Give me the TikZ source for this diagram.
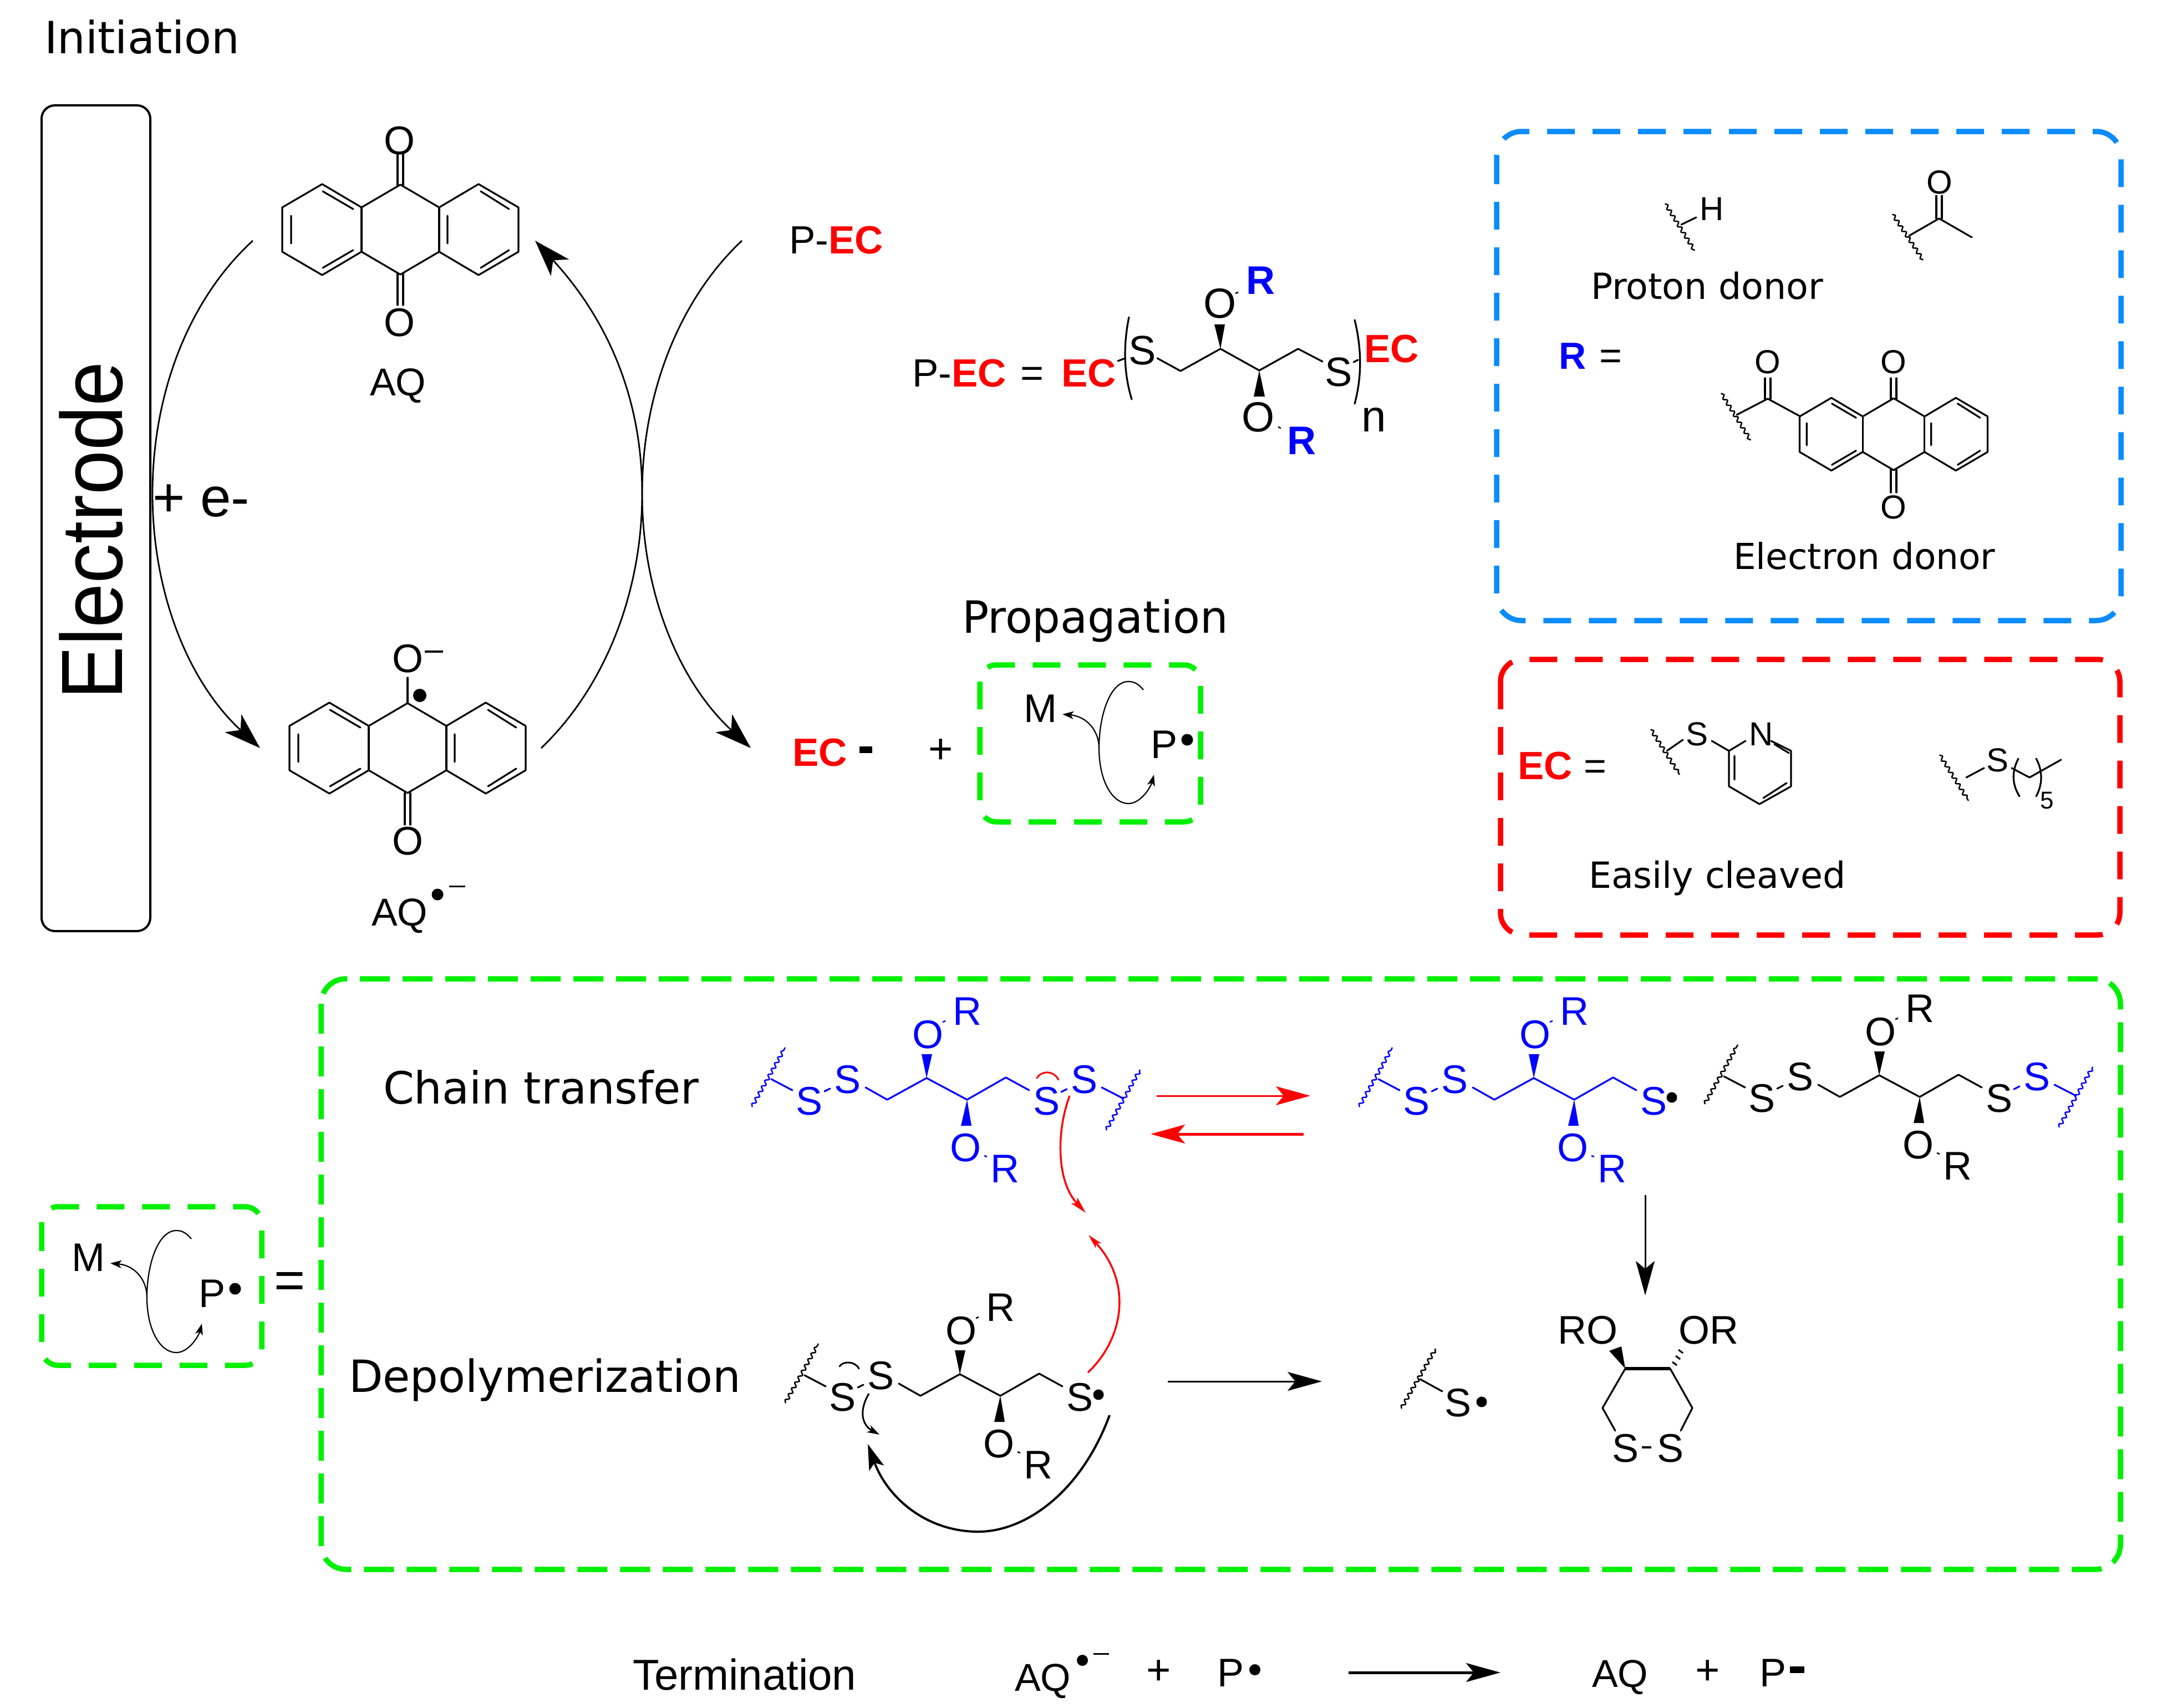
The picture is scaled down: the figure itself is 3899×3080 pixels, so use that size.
\documentclass[tikz,border=0pt]{standalone}
\usepackage{fontspec}
\setmainfont{Liberation Sans}
\newfontfamily\dvf{DejaVu Sans}
\usetikzlibrary{arrows.meta,decorations.pathmorphing}
\newcounter{nn}
\definecolor{gbox}{RGB}{0,240,0}
\definecolor{bbox}{RGB}{10,140,255}
\definecolor{rbox}{RGB}{255,0,0}
\definecolor{chemb}{RGB}{0,0,255}
\tikzset{
  bond/.style={line width=3.2pt,line cap=round,line join=round},
  wav/.style={line width=2.5pt,decorate,decoration={snake,amplitude=3pt,segment length=12pt,pre length=1pt,post length=1pt}},
  lab/.style={inner sep=0pt,outer sep=0pt},
  dbox/.style={line width=9.5pt,rounded corners=30pt,dash pattern=on 50pt off 32pt},
  bigarrow/.style={line width=2.8pt,-{Stealth[length=66pt,width=44pt,inset=18pt]}},
  midarrow/.style={line width=3pt,-{Stealth[length=62pt,width=34pt,inset=14pt]}},
  curlarrow/.style={line width=2.2pt},
}
\newcommand\lb[3][]{\stepcounter{nn}\node[lab,#1] (n\thenn) at (#2) {#3};}
\newcommand\sz[1]{\fontsize{#1}{#1}\selectfont}
\newcommand\dotb[2]{\fill (#1) circle (#2);}
% tricyclic quinone core centred at the origin of the scope
\newcommand\core{%
  \draw[bond] (0,-81)--(70,-40)--(141,-82)--(213,-40)--(213,40)--(141,82)--(70,40)--(0,81)--(-70,40)--(-141,82)--(-213,40)--(-213,-40)--(-141,-82)--(-70,-40)--cycle;
  \draw[bond] (-70,-40)--(-70,40) (70,-40)--(70,40);
  \draw[bond] (-197,-25)--(-197,25) (-140,-69)--(-85,-37) (-140,69)--(-85,37);
  \draw[bond] (85,-25)--(85,25) (145,-69)--(196,-37) (145,69)--(196,37);
}
% disulfide repeat unit, coordinates are those of the first copy
\newcommand\chain[3]{%
 \begin{scope}[shift={(#1,#2)},color=#3]
  \draw[wav] (1356,1996)--(1416,1889);
  \draw[bond] (1391,1946)--(1429,1966);
  \lb{1459,1986}{\sz{72}S}
  \draw[bond] (1487,1968)--(1497,1963);
  \lb{1528,1947}{\sz{72}S}
  \draw[bond] (1561,1961)--(1600,1983)--(1671,1944)--(1744,1983)--(1814,1943)--(1856,1966);
  \fill (1671,1944)--(1662,1901)--(1681,1901)--cycle;
  \fill (1744,1983)--(1733,2030)--(1752,2030)--cycle;
  \lb{1673,1866}{\sz{72}O}
  \lb{1744,1824}{\sz{72}R}
  \lb{1741,2070}{\sz{72}O}
  \lb{1812,2108}{\sz{72}R}
  \draw[line width=2.5pt] (1700,1843)--(1705,1841) (1775,2084)--(1780,2086);
  \lb{1887,1986}{\sz{72}S}
 \end{scope}}
\newcommand\chainend[3]{%
 \begin{scope}[shift={(#1,#2)},color=#3]
  \draw[bond] (1914,1969)--(1924,1964);
  \lb{1955,1947}{\sz{72}S}
  \draw[bond] (1987,1961)--(2026,1981);
  \draw[wav] (1995,2038)--(2056,1929);
 \end{scope}}
\newcommand\mpunit[2]{%
 \begin{scope}[shift={(#1,#2)}]
  \lb{159,2268}{\sz{72}M}
  \lb[anchor=base west]{358,2357}{\sz{72}P}
  \dotb{424,2324}{10.5pt}
  \draw[curlarrow,-{Stealth[length=20pt,width=14pt,inset=5pt]}] (345,2234) .. controls (335,2222) and (327,2219) .. (318,2219) .. controls (285,2219) and (265,2280) .. (265,2339) .. controls (265,2400) and (290,2439) .. (318,2439) .. controls (340,2439) and (358,2410) .. (364,2387);
  \draw[curlarrow,-{Stealth[length=20pt,width=14pt,inset=5pt]}] (265,2339) .. controls (265,2310) and (245,2282) .. (199,2278);
 \end{scope}}
\begin{document}
\begin{tikzpicture}[x=1pt,y=-1pt]
\useasboundingbox (0,0) rectangle (3899,3080);
\fill[white] (0,0) rectangle (3899,3080);
% titles
\lb[anchor=base west]{80,97}{\dvf\sz{80}Initiation}
\lb[anchor=base west]{1735,1141}{\dvf\sz{80}Propagation}
\lb[anchor=base west]{691,1990}{\dvf\sz{80}Chain transfer}
\lb[anchor=base west]{629,2510}{\dvf\sz{80}Depolymerization}
\lb[anchor=base west]{1141,3047}{\sz{78}Termination}
\lb[anchor=base west]{2869,539}{\dvf\sz{65}Proton donor}
\lb[anchor=base west]{3126,1026}{\dvf\sz{64.5}Electron donor}
\lb[anchor=base west]{2865,1601}{\dvf\sz{65}Easily cleaved}
% electrode
\draw[line width=4pt,rounded corners=24pt] (75,190) rectangle (271,1679);
\lb[anchor=base west,rotate=90]{220,1261}{\scalebox{1}[1.09]{\sz{144}Electrode}}
\lb[anchor=base west]{275,931}{\sz{100}+ e-}
% AQ
\begin{scope}[shift={(722,414)}]\core\end{scope}
\draw[bond] (717,335)--(717,278) (727,335)--(727,278) (717,493)--(717,550) (727,493)--(727,550);
\lb{720,254}{\sz{72}O}
\lb{720,582}{\sz{72}O}
\lb[anchor=base west]{667,713}{\sz{70}AQ}
% AQ radical anion
\begin{scope}[shift={(735,1349)}]\core\end{scope}
\draw[bond] (735,1267)--(735,1222) (730,1430)--(730,1487) (740,1430)--(740,1487);
\lb{735,1188}{\sz{72}O}
\draw[line width=3.5pt] (766,1175)--(799,1175);
\dotb{757,1254}{12pt}
\lb{735,1517}{\sz{72}O}
\lb[anchor=base west]{670,1669}{\sz{70}AQ}
\dotb{789,1613}{10.5pt}
\draw[line width=3pt] (810,1598)--(839,1598);
% cycle arrows
\coordinate (c1a) at (456,434); \coordinate (c1b) at (469,1349);
\coordinate (c2a) at (976,1349); \coordinate (c2b) at (965,434);
\coordinate (c3a) at (1338,434); \coordinate (c3b) at (1354,1349);
\draw[bigarrow] (c1a) .. controls (340,540) and (275,710) .. (275,890) .. controls (275,1070) and (340,1230) .. (c1b);
\draw[bigarrow] (c2a) .. controls (1090,1240) and (1158,1070) .. (1158,890) .. controls (1158,710) and (1090,570) .. (c2b);
\draw[bigarrow] (c3a) .. controls (1225,540) and (1158,710) .. (1158,890) .. controls (1158,1070) and (1225,1230) .. (c3b);
% P-EC
\lb[anchor=base west]{1423,457}{\sz{71}P-\textcolor{red}{\bfseries EC}}
\lb[anchor=base west]{1645,697}{\sz{71}P-\textcolor{red}{\bfseries EC}}
\lb[anchor=base west]{1840,697}{\sz{72}=}
\lb[anchor=base west]{1914,697}{\sz{71}\textcolor{red}{\bfseries EC}}
\draw[bond] (2016,651)--(2029,646);
\draw[bond] (2036,572) .. controls (2026,620) and (2026,672) .. (2041,720);
\lb{2060,632}{\sz{74}S}
\draw[bond] (2087,646)--(2129,669)--(2201,629)--(2271,668)--(2341,629)--(2385,652);
\fill (2201,629)--(2190,585)--(2209,585)--cycle;
\fill (2271,668)--(2261,715)--(2281,715)--cycle;
\lb{2200,547}{\sz{76}O}
\lb{2269,752}{\sz{76}O}
\draw[line width=2.5pt] (2228,529)--(2233,527) (2305,770)--(2310,772);
\lb[anchor=base west]{2247,530}{\sz{72}\textcolor{chemb}{\bfseries R}}
\lb[anchor=base west]{2321,819}{\sz{72}\textcolor{chemb}{\bfseries R}}
\lb{2414,671}{\sz{74}S}
\draw[bond] (2441,653)--(2449,649);
\draw[bond] (2443,577) .. controls (2456,630) and (2456,680) .. (2443,728);
\lb[anchor=base west]{2460,653}{\sz{71}\textcolor{red}{\bfseries EC}}
\lb[anchor=base west]{2455,778}{\sz{80}n}
% EC- + propagation
\lb[anchor=base west]{1429,1381}{\sz{71}\textcolor{red}{\bfseries EC}}
\fill (1550,1346) rectangle (1573,1358);
\lb{1697,1355}{\sz{76}+}
\draw[gbox,dbox] (1767,1199) rectangle (2165,1482);
\mpunit{1717}{-990}
% R panel
\draw[bbox,dbox,rounded corners=45pt] (2699,237) rectangle (3825,1119);
\draw[wav] (3003,367)--(3056,452);
\draw[bond] (3032,405)--(3059,392);
\lb{3087,377}{\sz{60}H}
\draw[wav] (3413,386)--(3468,469);
\draw[bond] (3443,425)--(3497,394)--(3556,428);
\draw[bond] (3492,394)--(3492,353) (3502,394)--(3502,353);
\lb{3498,329}{\sz{60}O}
\lb[anchor=base west]{2811,665}{\sz{68}\textcolor{chemb}{\bfseries R}}
\lb[anchor=base west]{2884,665}{\sz{70}=}
\draw[wav] (3104,709)--(3157,794);
\draw[bond] (3132,748)--(3188,719)--(3245,750);
\draw[bond] (3183,719)--(3183,682) (3193,719)--(3193,682);
\lb{3188,653}{\sz{60}O}
\begin{scope}[shift={(3415,783)},xscale=.796,yscale=.8]\core\end{scope}
\draw[bond] (3410,719)--(3410,682) (3420,719)--(3420,682) (3410,847)--(3410,888) (3420,847)--(3420,888);
\lb{3415,653}{\sz{60}O}
\lb{3415,915}{\sz{60}O}
% EC panel
\draw[rbox,dbox,rounded corners=40pt] (2706,1189) rectangle (3823,1686);
\lb[anchor=base west]{2737,1405}{\sz{71}\textcolor{red}{\bfseries EC}}
\lb[anchor=base west]{2856,1405}{\sz{70}=}
\draw[wav] (2977,1315)--(3029,1397);
\draw[bond] (3006,1354)--(3035,1334);
\lb{3060,1324}{\sz{60}S}
\draw[bond] (3087,1336)--(3118,1354)--(3148,1336);
\lb{3176,1324}{\sz{60}N}
\draw[bond] (3194,1336)--(3230,1354)--(3230,1418)--(3173,1450)--(3118,1418)--(3118,1354);
\draw[bond] (3128,1363)--(3128,1406) (3180,1439)--(3222,1412) (3200,1342)--(3226,1358);
\draw[wav] (3498,1361)--(3550,1444);
\draw[bond] (3546,1402)--(3578,1385);
\lb{3602,1371}{\sz{60}S}
\draw[bond] (3628,1385)--(3660,1402)--(3717,1370);
\draw[bond] (3640,1368) .. controls (3628,1390) and (3628,1414) .. (3642,1436);
\draw[bond] (3672,1368) .. controls (3684,1390) and (3684,1414) .. (3672,1436);
\lb{3692,1444}{\sz{44}5}
% main green box
\draw[gbox,dbox,rounded corners=45pt,dash pattern=on 54pt off 23pt] (579,1765) rectangle (3824,2830);
\draw[gbox,dbox] (75,2176) rectangle (472,2462);
\mpunit{0}{0}
\lb{523,2318}{\sz{96}=}
% structures
\chain{0}{0}{chemb}
\chainend{0}{0}{chemb}
\chain{1095}{0}{chemb}
\dotb{3015,1979}{9.5pt}
\chain{1718}{-5}{black}
\chainend{1718}{-5}{chemb}
\chain{60}{534}{black}
\dotb{1981,2515}{9.5pt}
% red arrows
\draw[red,midarrow] (2086,1976)--(2363,1976);
\draw[red,midarrow,line width=5pt] (2351,2045)--(2075,2045);
\draw[red,line width=3pt,line cap=round] (1870,1944) .. controls (1878,1930) and (1900,1930) .. (1909,1947);
\draw[red,line width=3.4pt,-{Stealth[length=30pt,width=15pt,inset=6pt]}] (1929,1976) .. controls (1905,2040) and (1905,2130) .. (1958,2187);
\draw[red,line width=3.4pt,-{Stealth[length=26pt,width=13pt,inset=6pt]}] (1962,2475) .. controls (2030,2410) and (2040,2310) .. (1963,2227);
\draw[line width=3pt,line cap=round] (1514,2464) .. controls (1520,2454) and (1542,2454) .. (1549,2468);
\draw[line width=3pt,-{Stealth[length=22pt,width=14pt,inset=6pt]}] (1567,2513) .. controls (1548,2545) and (1555,2570) .. (1586,2587);
\draw[line width=4pt,-{Stealth[length=46pt,width=28pt,inset=10pt]}] (2001,2552) .. controls (1950,2690) and (1850,2762) .. (1764,2762) .. controls (1670,2762) and (1600,2700) .. (1565,2604);
\draw[midarrow] (2106,2491)--(2384,2491);
\draw[midarrow] (2967,2155)--(2967,2336);
% products
\draw[wav] (2527,2540)--(2589,2432);
\draw[bond] (2561,2487)--(2601,2509);
\lb{2629,2530}{\sz{72}S}
\dotb{2672,2528}{9.5pt}
\lb[anchor=base west]{2809,2423}{\sz{72}RO}
\lb[anchor=base west]{3027,2423}{\sz{72}OR}
\fill (2931,2468)--(2902,2436)--(2924,2428)--cycle;
\draw[line width=6pt] (2931,2468)--(3012,2468);
\draw[line width=3pt] (3016,2456)--(3024,2462) (3022,2445)--(3030,2451) (3027,2434)--(3035,2440);
\draw[bond] (2931,2468)--(2890,2539)--(2913,2580);
\draw[bond] (3012,2468)--(3052,2539)--(3031,2580);
\lb{2931,2612}{\sz{72}S}
\lb{3012,2612}{\sz{72}S}
\draw[line width=4pt] (2961,2610)--(2978,2610);
% termination
\lb[anchor=base west]{1830,3049}{\sz{70}AQ}
\dotb{1952,2994}{10pt}
\draw[line width=3pt] (1972,2982)--(2000,2982);
\lb{2090,3016}{\sz{76}+}
\lb[anchor=base west]{2195,3041}{\sz{72}P}
\dotb{2263,3011}{10pt}
\draw[midarrow,line width=5pt] (2432,3016)--(2706,3016);
\lb[anchor=base west]{2871,3042}{\sz{70}AQ}
\lb{3080,3016}{\sz{76}+}
\lb[anchor=base west]{3173,3041}{\sz{72}P}
\fill (3228,3005) rectangle (3254,3017);
\end{tikzpicture}
\end{document}
